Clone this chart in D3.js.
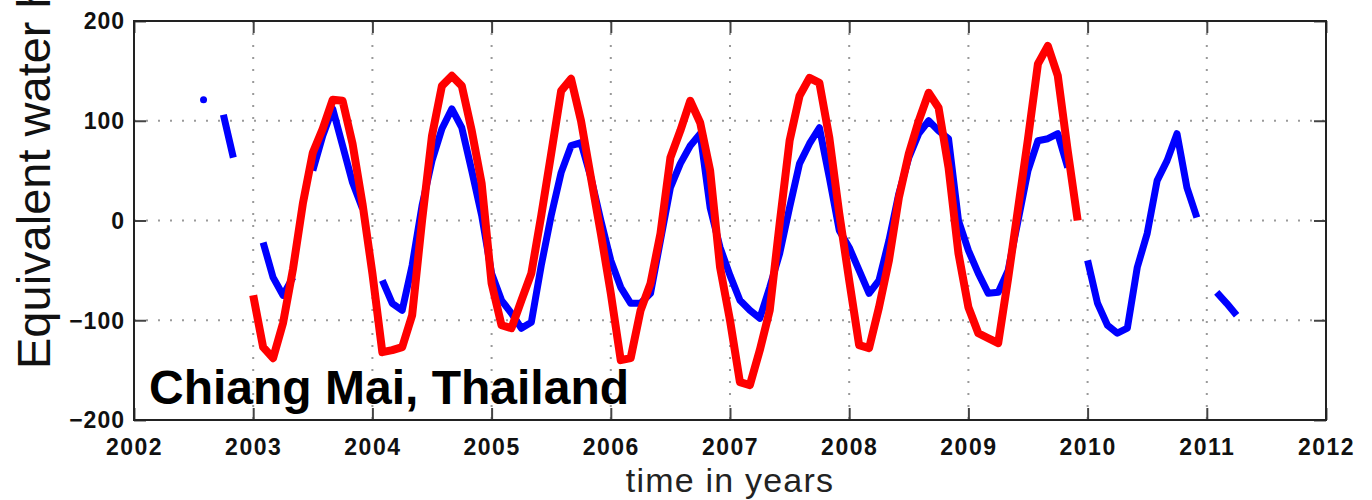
<!DOCTYPE html>
<html>
<head>
<meta charset="utf-8">
<script src="https://cdn.jsdelivr.net/npm/d3@7"></script>
<style>
  html, body { margin: 0; padding: 0; background: #fff; }
  svg { display: block; font-family: "Liberation Sans", Arial, Helvetica, sans-serif; }
</style>
</head>
<body>
<svg id="chart" width="1372" height="500"></svg>
<script>
// ---- data (monthly, time = year + (month-1)/12; null = missing) ----
const years = [2002, 2003, 2004, 2005, 2006, 2007, 2008, 2009, 2010, 2011];
const blueValues = [
  // 2002 Jan..Dec
  null, null, null, null, null, null, null, 121, null, 106, 63, null,
  // 2003
  null, -22, -57, -75, -57, null, 50, 85, 112, 75, 38, 12,
  // 2004
  null, -60, -83, -90, -45, 15, 60, 92, 112, 93, 50, 5,
  // 2005
  -53, -80, -93, -108, -102, -45, 5, 48, 75, 78, 43, 0,
  // 2006
  -40, -67, -83, -83, -73, -20, 33, 57, 75, 87, 13, -27,
  // 2007
  -55, -80, -90, -98, -67, -33, 13, 57, 77, 93, 43, -10,
  // 2008
  -27, -50, -73, -60, -20, 27, 63, 87, 100, 90, 82, 0,
  // 2009
  -30, -53, -73, -72, -50, 0, 50, 80, 82, 87, 53, null,
  // 2010
  -40, -83, -105, -113, -108, -47, -13, 40, 60, 87, 33, 3,
  // 2011
  null, -72, -83, -95, null, null, null, null, null, null, null, null
];
const redValues = [
  // 2002
  null, null, null, null, null, null, null, null, null, null, null, null,
  // 2003
  -75, -127, -138, -103, -49, 17, 68, 92, 121, 120, 77, 17,
  // 2004
  -53, -132, -130, -127, -95, 0, 85, 135, 145, 135, 90, 37,
  // 2005
  -63, -105, -108, -80, -53, 5, 67, 130, 142, 100, 43, -13,
  // 2006
  -73, -140, -138, -90, -63, -13, 63, 90, 120, 98, 50, -47,
  // 2007
  -100, -162, -165, -130, -90, -3, 80, 125, 143, 138, 83, 7,
  // 2008
  -60, -125, -128, -87, -40, 23, 67, 100, 128, 113, 53, -33,
  // 2009
  -87, -113, -118, -123, -58, 12, 82, 157, 175, 145, 70, 0,
  // 2010
  null, null, null, null, null, null, null, null, null, null, null, null,
  // 2011
  null, null, null, null, null, null, null, null, null, null, null, null
];
const xTickValues = [2002, 2003, 2004, 2005, 2006, 2007, 2008, 2009, 2010, 2011, 2012];
const xTickLabels = ["2002", "2003", "2004", "2005", "2006", "2007", "2008", "2009", "2010", "2011", "2012"];
const yTickValues = [-200, -100, 0, 100, 200];
const yTickLabels = ["\u2212200", "\u2212100", "0", "100", "200"];
const xGridValues = [2003, 2004, 2005, 2006, 2007, 2008, 2009, 2010, 2011];
const yGridValues = [-100, 0, 100];
const xTitle = "time in years";
const yTitle = "Equivalent water height [mm]";
const placeLabel = "Chiang Mai, Thailand";

// ---- build series ----
function toSeries(vals) {
  return vals.map((v, i) => ({ t: years[0] + i / 12, v: v }));
}
const blue = toSeries(blueValues);
const red = toSeries(redValues);

const svg = d3.select("#chart");
const L = 134, R = 1326, T = 21, B = 420;
const x = d3.scaleLinear().domain([2002, 2012]).range([L, R]);
const y = d3.scaleLinear().domain([-200, 200]).range([B, T]);

// grid
const grid = svg.append("g").attr("stroke", "#9a9a9a").attr("stroke-width", 2)
  .attr("stroke-dasharray", "2,10");
grid.selectAll("line.gx").data(xGridValues).join("line")
  .attr("x1", d => x(d)).attr("x2", d => x(d)).attr("y1", T).attr("y2", B);
grid.selectAll("line.gy").data(yGridValues).join("line")
  .attr("x1", L).attr("x2", R).attr("y1", d => y(d)).attr("y2", d => y(d));

// axes
const tickFont = g => g.selectAll("text")
  .attr("font-family", "'Liberation Sans', Arial, Helvetica, sans-serif")
  .attr("font-size", 23).attr("font-weight", "bold").attr("fill", "#111")
  .attr("letter-spacing", "1.5px");

const xAxis = d3.axisBottom(x).tickValues(xTickValues)
  .tickFormat((d, i) => xTickLabels[i]).tickSizeInner(-12).tickSizeOuter(0).tickPadding(19);
const gx = svg.append("g").attr("transform", `translate(0,${B})`).call(xAxis);
gx.call(tickFont);
gx.selectAll(".tick line").attr("stroke", "#444").attr("stroke-width", 2);
gx.select(".domain").remove();

const yAxis = d3.axisLeft(y).tickValues(yTickValues)
  .tickFormat((d, i) => yTickLabels[i]).tickSizeInner(-12).tickSizeOuter(0).tickPadding(9);
const gy = svg.append("g").attr("transform", `translate(${L},0)`).call(yAxis);
gy.call(tickFont);
gy.selectAll("text").attr("letter-spacing", "1px").attr("dy", "0.34em");
gy.selectAll(".tick line").attr("stroke", "#444").attr("stroke-width", 2);
gy.select(".domain").remove();

const xTop = d3.axisTop(x).tickValues(xTickValues).tickFormat("").tickSizeInner(-12).tickSizeOuter(0);
const gxt = svg.append("g").attr("transform", `translate(0,${T})`).call(xTop);
gxt.selectAll(".tick line").attr("stroke", "#444").attr("stroke-width", 2);
gxt.select(".domain").remove();

const yRight = d3.axisRight(y).tickValues(yTickValues).tickFormat("").tickSizeInner(-12).tickSizeOuter(0);
const gyr = svg.append("g").attr("transform", `translate(${R},0)`).call(yRight);
gyr.selectAll(".tick line").attr("stroke", "#444").attr("stroke-width", 2);
gyr.select(".domain").remove();

// box
svg.append("rect").attr("x", L).attr("y", T).attr("width", R - L).attr("height", B - T)
  .attr("fill", "none").attr("stroke", "#222").attr("stroke-width", 2);

// lines
const line = d3.line().defined(d => d.v != null).x(d => x(d.t)).y(d => y(d.v));
function drawSeries(data, color, width) {
  svg.append("path").datum(data).attr("d", line)
    .attr("fill", "none").attr("stroke", color).attr("stroke-width", width)
    .attr("stroke-linejoin", "round").attr("stroke-linecap", "butt");
  const isolated = data.filter((d, i) => d.v != null &&
    (i === 0 || data[i - 1].v == null) && (i === data.length - 1 || data[i + 1].v == null));
  svg.selectAll(null).data(isolated).join("circle")
    .attr("cx", d => x(d.t)).attr("cy", d => y(d.v)).attr("r", width / 2)
    .attr("fill", color);
}
drawSeries(blue, "#0000ff", 7);
drawSeries(red, "#ff0000", 8);

// texts
svg.append("text").attr("x", 149).attr("y", 404)
  .attr("font-size", 48).attr("font-weight", "bold").attr("fill", "#000")
  .text(placeLabel);

svg.append("text").attr("x", (L + R) / 2).attr("y", 492).attr("text-anchor", "middle")
  .attr("font-size", 34).attr("fill", "#222").attr("letter-spacing", "1.2px")
  .text(xTitle);

svg.append("text").attr("transform", "translate(50,369) rotate(-90)")
  .attr("font-size", 47).attr("fill", "#111")
  .text(yTitle);
</script>
</body>
</html>
